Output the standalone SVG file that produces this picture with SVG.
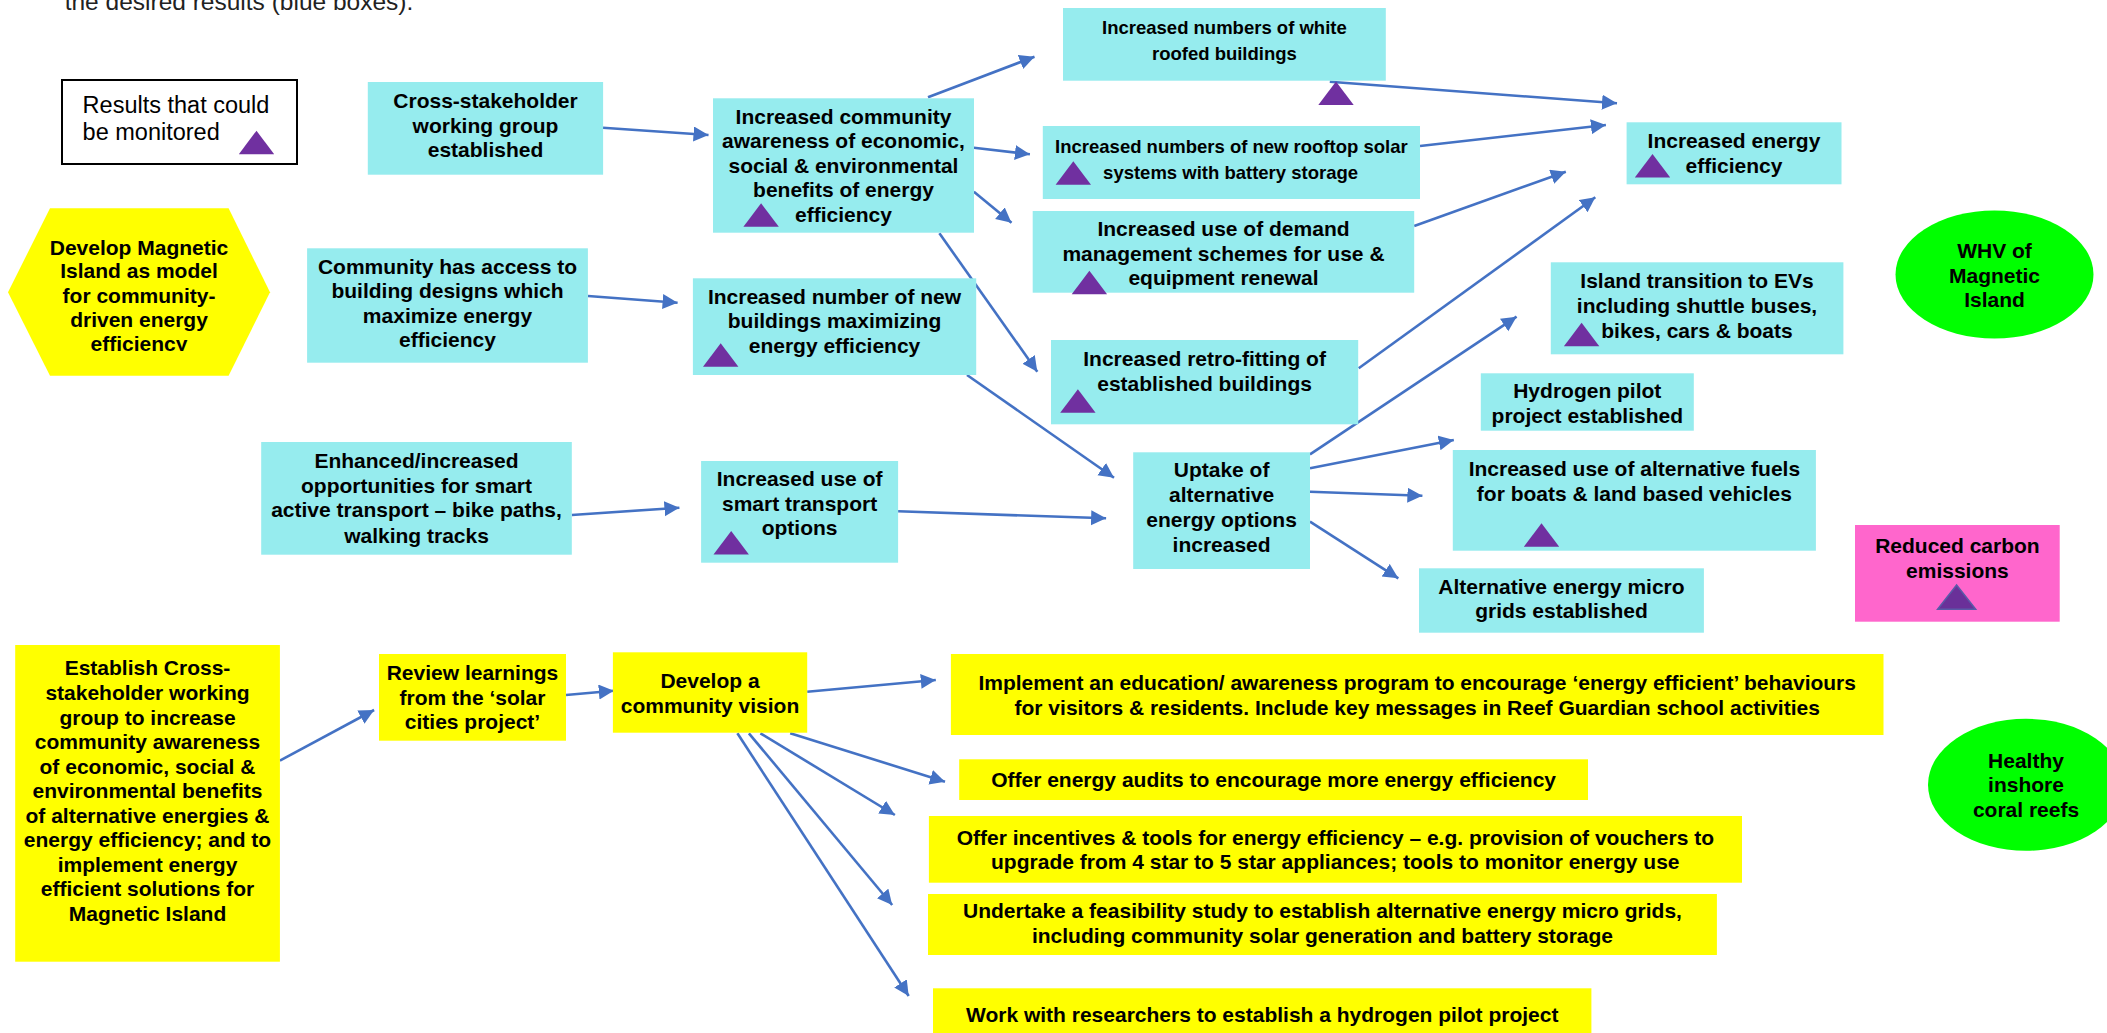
<svg xmlns="http://www.w3.org/2000/svg" xmlns:xlink="http://www.w3.org/1999/xlink" width="2107" height="1033" viewBox="0 0 2107 1033">
  <style>
    .blue { fill: #96ECEE; }
    .yel { fill: #FFFF00; }
    .green { fill: #00FF00; }
    .pink { fill: #FF66CC; }
    .t { font-family: "Liberation Sans", Arial, sans-serif; font-weight: bold; font-size: 21px; fill: #000; text-anchor: middle; }
    .s { font-size: 18.5px; }
    .reg { font-family: "Liberation Sans", Arial, sans-serif; font-size: 23.5px; fill: #000; }
    .conn line { stroke: #4472C4; stroke-width: 2.6; fill: none; marker-end: url(#arrow); }
  </style>
  <defs>
    <marker id="arrow" markerUnits="userSpaceOnUse" markerWidth="16" markerHeight="16" refX="15" refY="7.5" orient="auto">
      <path d="M0,0 L15,7.5 L0,15 Z" fill="#4472C4"/>
    </marker>
    <path id="tri" d="M0,23.5 L17.7,0 L35.4,23.5 Z" fill="#7030A0"/>
    <clipPath id="hexclip">
      <rect x="0" y="200" width="290" height="151"/>
    </clipPath>
  </defs>

  <!-- page heading, cut at the top edge -->
  <text class="reg" x="64.7" y="9.5" style="font-size:24.5px;fill:#222">the desired results (blue boxes).</text>

  <!-- legend -->
  <g id="legend">
    <rect x="62" y="80" width="235" height="84" fill="#fff" stroke="#000" stroke-width="2"/>
    <text class="reg" x="82.6" y="113.3">Results that could</text>
    <text class="reg" x="82.6" y="140">be monitored</text>
    <use xlink:href="#tri" x="238.8" y="130.7"/>
  </g>

  <!-- connectors -->
  <g id="connectors" class="conn">
    <line x1="603" y1="127.7" x2="708.5" y2="135"/>
    <line x1="588" y1="296" x2="677.6" y2="302.7"/>
    <line x1="928" y1="97.3" x2="1034.5" y2="56.7"/>
    <line x1="973.9" y1="147.7" x2="1029.9" y2="154.3"/>
    <line x1="973.9" y1="191.7" x2="1011.5" y2="222.7"/>
    <line x1="939.4" y1="233.3" x2="1037.3" y2="371.7"/>
    <line x1="967" y1="375" x2="1114" y2="477.7"/>
    <line x1="898.1" y1="511.3" x2="1106.1" y2="518.3"/>
    <line x1="571.8" y1="515" x2="679.4" y2="507.7"/>
    <line x1="1329.8" y1="81.7" x2="1617" y2="103.3"/>
    <line x1="1420" y1="146" x2="1605.9" y2="125"/>
    <line x1="1414.2" y1="226" x2="1565.8" y2="171.7"/>
    <line x1="1358.7" y1="368.3" x2="1595.3" y2="197.3"/>
    <line x1="1310" y1="454.3" x2="1516.6" y2="316.7"/>
    <line x1="1310" y1="468.3" x2="1453.8" y2="440"/>
    <line x1="1310" y1="491.7" x2="1422.4" y2="495.7"/>
    <line x1="1310" y1="521.7" x2="1398.3" y2="578.3"/>
    <line x1="279.9" y1="760.7" x2="374.1" y2="710"/>
    <line x1="566" y1="695" x2="613.8" y2="690.7"/>
    <line x1="807.2" y1="691.7" x2="935.8" y2="680"/>
    <line x1="790.2" y1="733.3" x2="945" y2="781.7"/>
    <line x1="760.4" y1="733.3" x2="894.9" y2="815"/>
    <line x1="748.9" y1="733.3" x2="892.2" y2="905"/>
    <line x1="737.4" y1="733.3" x2="908.7" y2="996"/>
  </g>

  <!-- goal hexagon -->
  <g id="n-goal">
    <polygon class="yel" points="50,208.3 228.6,208.3 270,292.3 228.6,375.7 50,375.7 8,292.3"/>
    <g clip-path="url(#hexclip)">
      <text class="t" x="139" y="255">Develop Magnetic</text>
      <text class="t" x="139" y="278.3">Island as model</text>
      <text class="t" x="139" y="302.7">for community-</text>
      <text class="t" x="139" y="326.7">driven energy</text>
      <text class="t" x="139" y="350.5">efficiency</text>
    </g>
  </g>

  <g id="n-cross">
    <rect class="blue" x="367.8" y="82" width="235.3" height="92.7"/>
    <text class="t" x="485.5" y="108.3">Cross-stakeholder</text>
    <text class="t" x="485.5" y="132.7">working group</text>
    <text class="t" x="485.5" y="157">established</text>
  </g>

  <g id="n-access">
    <rect class="blue" x="307.1" y="248.3" width="280.8" height="114.4"/>
    <text class="t" x="447.5" y="274">Community has access to</text>
    <text class="t" x="447.5" y="298.3">building designs which</text>
    <text class="t" x="447.5" y="322.7">maximize energy</text>
    <text class="t" x="447.5" y="347.3">efficiency</text>
  </g>

  <g id="n-awareness">
    <rect class="blue" x="713" y="98.3" width="261" height="134.4"/>
    <text class="t" x="843.5" y="124">Increased community</text>
    <text class="t" x="843.5" y="148.3">awareness of economic,</text>
    <text class="t" x="843.5" y="172.7">social &amp; environmental</text>
    <text class="t" x="843.5" y="196.7">benefits of energy</text>
    <text class="t" x="843.5" y="221.7">efficiency</text>
    <use xlink:href="#tri" x="743.4" y="203.3"/>
  </g>

  <g id="n-white">
    <rect class="blue" x="1063" y="8" width="322.8" height="72.7"/>
    <text class="t s" x="1224.4" y="34.3">Increased numbers of white</text>
    <text class="t s" x="1224.4" y="60">roofed buildings</text>
    <use xlink:href="#tri" x="1318.3" y="81.5"/>
  </g>

  <g id="n-rooftop">
    <rect class="blue" x="1042.8" y="126" width="377.2" height="73"/>
    <text class="t s" x="1231.4" y="153.3">Increased numbers of new rooftop solar</text>
    <text class="t s" x="1230.6" y="179.3">systems with battery storage</text>
    <use xlink:href="#tri" x="1055.6" y="161.3"/>
  </g>

  <g id="n-demand">
    <rect class="blue" x="1032.7" y="211" width="381.5" height="81.7"/>
    <text class="t" x="1223.5" y="236">Increased use of demand</text>
    <text class="t" x="1223.5" y="260.7">management schemes for use &amp;</text>
    <text class="t" x="1223.5" y="285">equipment renewal</text>
    <use xlink:href="#tri" x="1071.7" y="270.7"/>
  </g>

  <g id="n-newbuild">
    <rect class="blue" x="692.9" y="278.3" width="283.3" height="96.7"/>
    <text class="t" x="834.5" y="304">Increased number of new</text>
    <text class="t" x="834.5" y="328.3">buildings maximizing</text>
    <text class="t" x="834.5" y="353.3">energy efficiency</text>
    <use xlink:href="#tri" x="703" y="343.3"/>
  </g>

  <g id="n-retro">
    <rect class="blue" x="1051" y="340" width="307.2" height="84.3"/>
    <text class="t" x="1204.6" y="366">Increased retro-fitting of</text>
    <text class="t" x="1204.6" y="391">established buildings</text>
    <use xlink:href="#tri" x="1060.2" y="389.3"/>
  </g>

  <g id="n-efficiency">
    <rect class="blue" x="1626.6" y="122.3" width="214.9" height="62"/>
    <text class="t" x="1734" y="148.3">Increased energy</text>
    <text class="t" x="1734" y="172.7">efficiency</text>
    <use xlink:href="#tri" x="1634.8" y="154"/>
  </g>

  <g id="n-whv">
    <ellipse class="green" cx="1994.5" cy="274.5" rx="99" ry="64"/>
    <text class="t" x="1994.5" y="258.3">WHV of</text>
    <text class="t" x="1994.5" y="282.7">Magnetic</text>
    <text class="t" x="1994.5" y="306.7">Island</text>
  </g>

  <g id="n-ev">
    <rect class="blue" x="1550.8" y="262.3" width="292.6" height="92"/>
    <text class="t" x="1697" y="288.3">Island transition to EVs</text>
    <text class="t" x="1697" y="313.3">including shuttle buses,</text>
    <text class="t" x="1697" y="337.7">bikes, cars &amp; boats</text>
    <use xlink:href="#tri" x="1563.9" y="322.7"/>
  </g>

  <g id="n-h2pilot">
    <rect class="blue" x="1480.8" y="373.3" width="213" height="57.4"/>
    <text class="t" x="1587.3" y="398.3">Hydrogen pilot</text>
    <text class="t" x="1587.3" y="422.7">project established</text>
  </g>

  <g id="n-enhanced">
    <rect class="blue" x="261.2" y="442" width="310.6" height="112.7"/>
    <text class="t" x="416.5" y="468.3">Enhanced/increased</text>
    <text class="t" x="416.5" y="493.3">opportunities for smart</text>
    <text class="t" x="416.5" y="517.3">active transport – bike paths,</text>
    <text class="t" x="416.5" y="542.7">walking tracks</text>
  </g>

  <g id="n-smart">
    <rect class="blue" x="701.1" y="461" width="197" height="101.7"/>
    <text class="t" x="799.6" y="485.7">Increased use of</text>
    <text class="t" x="799.6" y="510.7">smart transport</text>
    <text class="t" x="799.6" y="535">options</text>
    <use xlink:href="#tri" x="713.5" y="531"/>
  </g>

  <g id="n-uptake">
    <rect class="blue" x="1133.2" y="452.3" width="176.8" height="116.7"/>
    <text class="t" x="1221.6" y="476.7">Uptake of</text>
    <text class="t" x="1221.6" y="502.3">alternative</text>
    <text class="t" x="1221.6" y="526.7">energy options</text>
    <text class="t" x="1221.6" y="551.7">increased</text>
  </g>

  <g id="n-fuels">
    <rect class="blue" x="1452.8" y="450" width="363.1" height="100.7"/>
    <text class="t" x="1634.4" y="476">Increased use of alternative fuels</text>
    <text class="t" x="1634.4" y="501">for boats &amp; land based vehicles</text>
    <use xlink:href="#tri" x="1523.8" y="523.3"/>
  </g>

  <g id="n-micro">
    <rect class="blue" x="1419" y="568.3" width="284.9" height="64.4"/>
    <text class="t" x="1561.5" y="594">Alternative energy micro</text>
    <text class="t" x="1561.5" y="618.3">grids established</text>
  </g>

  <g id="n-carbon">
    <rect class="pink" x="1855" y="525" width="204.7" height="96.7"/>
    <text class="t" x="1957.4" y="553.3">Reduced carbon</text>
    <text class="t" x="1957.4" y="578.3">emissions</text>
    <path d="M1937.6,609.3 L1956.6,585 L1975.7,609.3 Z" fill="#6A3099" stroke="#5A5AA8" stroke-width="1.5"/>
  </g>

  <g id="n-establish">
    <rect class="yel" x="15.2" y="645" width="264.7" height="316.7"/>
    <text class="t" x="147.5" y="675">Establish Cross-</text>
    <text class="t" x="147.5" y="700">stakeholder working</text>
    <text class="t" x="147.5" y="725">group to increase</text>
    <text class="t" x="147.5" y="749.3">community awareness</text>
    <text class="t" x="147.5" y="774">of economic, social &amp;</text>
    <text class="t" x="147.5" y="798.3">environmental benefits</text>
    <text class="t" x="147.5" y="822.7">of alternative energies &amp;</text>
    <text class="t" x="147.5" y="847.3">energy efficiency; and to</text>
    <text class="t" x="147.5" y="871.7">implement energy</text>
    <text class="t" x="147.5" y="896">efficient solutions for</text>
    <text class="t" x="147.5" y="921">Magnetic Island</text>
  </g>

  <g id="n-review">
    <rect class="yel" x="379" y="654" width="187" height="86.7"/>
    <text class="t" x="472.5" y="680">Review learnings</text>
    <text class="t" x="472.5" y="704.5">from the ‘solar</text>
    <text class="t" x="472.5" y="729">cities  project’</text>
  </g>

  <g id="n-vision">
    <rect class="yel" x="612.9" y="652.3" width="194.3" height="80.4"/>
    <text class="t" x="710" y="688.3">Develop a</text>
    <text class="t" x="710" y="712.7">community vision</text>
  </g>

  <g id="n-education">
    <rect class="yel" x="950.9" y="654" width="932.6" height="81"/>
    <text class="t" x="1417.2" y="690">Implement an education/ awareness program to encourage ‘energy efficient’ behaviours</text>
    <text class="t" x="1417.2" y="715">for visitors &amp; residents. Include key messages in Reef Guardian school activities</text>
  </g>

  <g id="n-audits">
    <rect class="yel" x="959.2" y="759.3" width="628.8" height="40.7"/>
    <text class="t" x="1273.6" y="786.7">Offer energy audits to encourage more energy efficiency</text>
  </g>

  <g id="n-incentives">
    <rect class="yel" x="928.9" y="816" width="813.1" height="66.7"/>
    <text class="t" x="1335.3" y="845">Offer incentives &amp; tools for energy efficiency – e.g. provision of vouchers to</text>
    <text class="t" x="1335.3" y="869.3">upgrade from 4 star to 5 star appliances; tools to monitor energy use</text>
  </g>

  <g id="n-feasibility">
    <rect class="yel" x="928" y="894" width="788.9" height="61"/>
    <text class="t" x="1322.5" y="918.3">Undertake a feasibility study to establish alternative energy micro grids,</text>
    <text class="t" x="1322.5" y="943.3">including community solar generation and battery storage</text>
  </g>

  <g id="n-hydrogen">
    <rect class="yel" x="933" y="988.3" width="658.4" height="50"/>
    <text class="t" x="1262.2" y="1021.7">Work with researchers to establish a hydrogen pilot project</text>
  </g>

  <g id="n-reefs">
    <ellipse class="green" cx="2026" cy="784.8" rx="98" ry="66"/>
    <text class="t" x="2026" y="768.3">Healthy</text>
    <text class="t" x="2026" y="791.7">inshore</text>
    <text class="t" x="2026" y="816.7">coral reefs</text>
  </g>
</svg>
